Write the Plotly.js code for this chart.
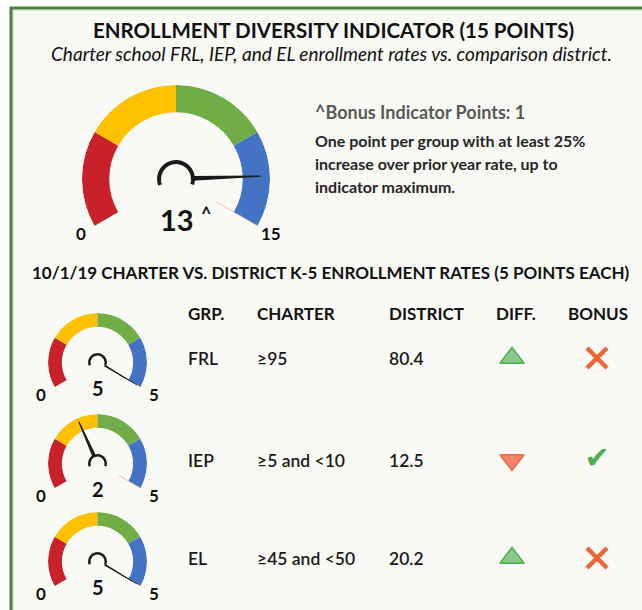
<!DOCTYPE html>
<html>
<head>
<meta charset="utf-8">
<script src="https://cdn.plot.ly/plotly-3.0.1.min.js"></script>
<style>html,body{margin:0;padding:0;background:#ffffff;}#chart{width:642px;height:610px;}</style>
</head>
<body>
<div id="chart"></div>
<script>
// ---------------- DATA ----------------
const overallValue = 13;
const overallMax = 15;
const bonusPoints = 1;
const groups = ['FRL', 'IEP', 'EL'];
const charterRates = ['≥95', '≥5 and <10', '≥45 and <50'];
const districtRates = [80.4, 12.5, 20.2];
const diffDirection = ['up', 'down', 'up'];
const bonusEarned = [false, true, false];
const groupScores = [5, 2, 5];
const groupMax = [5, 5, 5];
const bandShares = [0.25, 0.25, 0.25, 0.25];
const tableHeaders = ['GRP.', 'CHARTER', 'DISTRICT', 'DIFF.', 'BONUS'];

// ---------------- STYLE / LAYOUT ----------------
const W = 642, H = 610;
const px = x => x / W;
const py = y => 1 - y / H;
const FONT = 'Lato, "Open Sans", sans-serif';
const bandColors = ['#c9212a', '#ffc000', '#70ad47', '#4472c4'];
const SWEEP = 240;

const gauges = [
  {value: overallValue, max: overallMax, cx: 176, cy: 179, R: 94, inner: 0.71, hubR: 0.18, hubW: 4, tip: 0.9, nw: 6, lblR: 1.17, lblSize: 17, valDy: 41, valSize: 29, label: overallValue + ''},
];
groupScores.forEach((v, i) => {
  gauges.push({value: v, max: groupMax[i], cx: 97.5, cy: [362.5, 463.5, 561.5][i], R: 49.5, inner: 0.72, hubR: 0.165, hubW: 2.5, tip: 0.92, nw: 9, lblR: 1.31, lblSize: 17, valDy: 25.5, valSize: 20, label: v + ''});
});

const traces = [];
const layout = {
  width: W, height: H,
  margin: {l: 0, r: 0, t: 0, b: 0},
  paper_bgcolor: '#ffffff',
  plot_bgcolor: 'rgba(0,0,0,0)',
  showlegend: false,
  font: {family: FONT, color: '#1a1a1a'},
  xaxis: {range: [0, W], domain: [0, 1], visible: false, fixedrange: true},
  yaxis: {range: [H, 0], domain: [0, 1], visible: false, fixedrange: true},
  shapes: [
    {type: 'rect', xref: 'paper', yref: 'paper', x0: px(11), x1: 1.1, y0: -0.1, y1: py(8),
     line: {color: '#4f7d3f', width: 3}, fillcolor: '#f9f9f5', layer: 'below'},
    {type: 'rect', xref: 'paper', yref: 'paper', x0: px(13), x1: 1.1, y0: -0.1, y1: py(10),
     line: {color: '#a8c49c', width: 0.8}, fillcolor: 'rgba(0,0,0,0)', layer: 'below'}
  ],
  annotations: []
};

function ann(text, x, y, opts) {
  layout.annotations.push(Object.assign({
    text: text, xref: 'paper', yref: 'paper', x: px(x), y: py(y), showarrow: false,
    xanchor: 'center', yanchor: 'middle', font: {family: FONT, size: 14, color: '#1a1a1a'}
  }, opts || {}));
}

gauges.forEach((g, k) => {
  const sp = k === 0 ? 'polar' : 'polar' + (k + 1);
  layout[sp] = {
    domain: {x: [px(g.cx - g.R), px(g.cx + g.R)], y: [py(g.cy + 0.5 * g.R), py(g.cy - g.R)]},
    sector: [-30, 210],
    hole: 0,
    bgcolor: 'rgba(0,0,0,0)',
    radialaxis: {range: [0, 1], visible: false, showgrid: false},
    angularaxis: {rotation: 210, direction: 'clockwise', visible: false, showgrid: false}
  };
  const toDeg = v => v / g.max * SWEEP;
  // bands
  let acc = 0;
  const th = [], wd = [];
  bandShares.forEach(s => { th.push(toDeg((acc + s / 2) * g.max)); wd.push(s * SWEEP); acc += s; });
  traces.push({type: 'barpolar', subplot: sp, r: bandShares.map(() => 1 - g.inner), base: bandShares.map(() => g.inner),
    theta: th, width: wd, marker: {color: bandColors, line: {width: 0}}, hoverinfo: 'skip'});
  // max marker line
  traces.push({type: 'scatterpolar', subplot: sp, mode: 'lines', r: [0.5, 0.99], theta: [toDeg(g.max), toDeg(g.max)],
    line: {color: '#f4b183', width: 1.3}, hoverinfo: 'skip'});
  // hub arc
  const hr = [], ht = [];
  for (let a = 0.04 * SWEEP; a <= 0.96 * SWEEP + 0.01; a += 3) { hr.push(g.hubR); ht.push(a); }
  traces.push({type: 'scatterpolar', subplot: sp, mode: 'lines', r: hr, theta: ht,
    line: {color: '#1a1a1a', width: g.hubW}, hoverinfo: 'skip'});
  // needle
  const na = toDeg(g.value);
  traces.push({type: 'scatterpolar', subplot: sp, mode: 'lines', fill: 'toself', fillcolor: '#1a1a1a',
    r: [g.hubR, g.tip, g.hubR, g.hubR], theta: [na - g.nw, na, na + g.nw, na - g.nw],
    line: {color: '#1a1a1a', width: 1.2}, hoverinfo: 'skip'});
  // end labels (0 and max), placed along the gauge's end directions
  [0, g.max].forEach(v => {
    const a = (210 - toDeg(v)) * Math.PI / 180;
    ann(String(v), g.cx + g.lblR * g.R * Math.cos(a), g.cy - g.lblR * g.R * Math.sin(a),
      {font: {family: FONT, size: g.lblSize, color: '#111', weight: 700}});
  });
  // value
  ann(g.label, g.cx + (k === 0 ? 1 : 0.5), g.cy + g.valDy, {font: {family: FONT, size: g.valSize, color: '#111', weight: 700}});
});
ann('^', 206, 214, {font: {family: FONT, size: 18, color: '#111', weight: 700}});

// Titles & notes
ann('ENROLLMENT DIVERSITY INDICATOR (15 POINTS)', 334, 30, {font: {family: FONT, size: 20.5, color: '#111', weight: 700}});
ann('<i>Charter school FRL, IEP, and EL enrollment rates vs. comparison district.</i>', 331, 53, {font: {family: FONT, size: 19, color: '#111'}});
ann('^Bonus Indicator Points: ' + bonusPoints, 313, 112, {xanchor: 'left', font: {family: FONT, size: 18, color: '#595959', weight: 700}});
['One point per group with at least 25%', 'increase over prior year rate, up to', 'indicator maximum.'].forEach((t, i) => {
  ann(t, 313, 140 + i * 23, {xanchor: 'left', font: {family: FONT, size: 16, color: '#262626', weight: 700}});
});
ann('10/1/19 CHARTER VS. DISTRICT K-5 ENROLLMENT RATES (5 POINTS EACH)', 30, 272, {xanchor: 'left', font: {family: FONT, size: 17, color: '#111', weight: 700}});

// Table
const colX = [186, 255, 387, 494, 566];
const headerY = 313;
const rowY = [358, 460, 558];
tableHeaders.forEach((h, j) => {
  layout.annotations.push({text: h, xref: 'x', yref: 'y', x: colX[j], y: headerY, showarrow: false, xanchor: 'left', yanchor: 'middle',
    font: {family: FONT, size: 17, color: '#111', weight: 700}});
});
const cellFont = {family: FONT, size: 17.5, color: '#1a1a1a', weight: 600};
groups.forEach((gname, i) => {
  [gname, charterRates[i], districtRates[i].toFixed(1)].forEach((t, j) => {
    layout.annotations.push({text: t, xref: 'x', yref: 'y', x: colX[j], y: rowY[i], showarrow: false, xanchor: 'left', yanchor: 'middle', font: cellFont});
  });
});
// diff triangles
traces.push({type: 'scatter', mode: 'markers', x: groups.map(() => 512), y: rowY,
  marker: {symbol: diffDirection.map(d => d === 'up' ? 'triangle-up' : 'triangle-down'), size: 21,
    color: diffDirection.map(d => d === 'up' ? '#88c98c' : '#f4836b'),
    line: {color: diffDirection.map(d => d === 'up' ? '#4caf50' : '#ee6a44'), width: 1.5}}, hoverinfo: 'skip'});
// bonus: crosses
const noIdx = bonusEarned.map((b, i) => b ? -1 : i).filter(i => i >= 0);
traces.push({type: 'scatter', mode: 'markers', x: noIdx.map(() => 597), y: noIdx.map(i => rowY[i]),
  marker: {symbol: 'x-thin', size: 20, line: {color: '#f26535', width: 4.5}}, hoverinfo: 'skip'});
// bonus: checks
const yesIdx = bonusEarned.map((b, i) => b ? i : -1).filter(i => i >= 0);
traces.push({type: 'scatter', mode: 'text', x: yesIdx.map(() => 597), y: yesIdx.map(i => rowY[i]), text: yesIdx.map(() => '✔'),
  textposition: 'middle center', textfont: {family: 'DejaVu Sans', size: 30, color: '#4caf50'}, hoverinfo: 'skip'});

Plotly.newPlot('chart', traces, layout, {staticPlot: true, displayModeBar: false});
</script>
</body>
</html>
